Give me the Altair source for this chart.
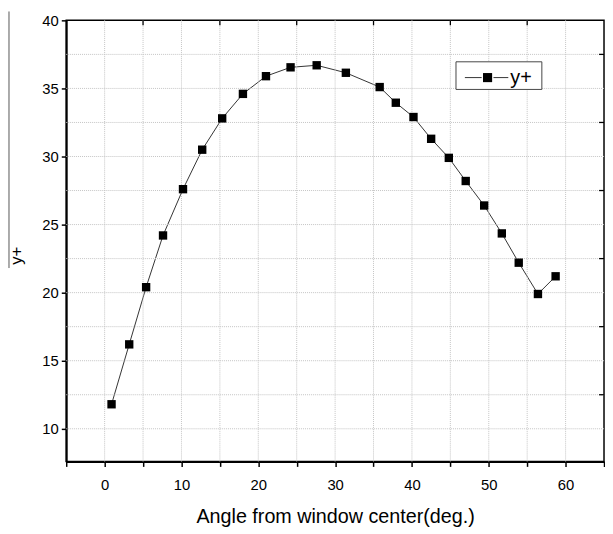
import altair as alt
import pandas as pd

# ---- data ----
angle = [0.9, 3.2, 5.4, 7.6, 10.2, 12.7, 15.3, 18.0, 21.0, 24.2, 27.6, 31.4,
         35.8, 37.9, 40.2, 42.5, 44.8, 47.0, 49.4, 51.7, 53.9, 56.4, 58.7]
yplus = [11.8, 16.2, 20.4, 24.2, 27.6, 30.5, 32.8, 34.6, 35.9, 36.55, 36.7, 36.15,
         35.1, 33.95, 32.9, 31.3, 29.9, 28.2, 26.4, 24.35, 22.2, 19.9, 21.2]
series_name = "y+"

x_ticks = [-5, 0, 5, 10, 15, 20, 25, 30, 35, 40, 45, 50, 55, 60, 65]
y_ticks = [10, 15, 20, 25, 30, 35, 40]
x_grid = [0, 5, 10, 15, 20, 25, 30, 35, 40, 45, 50, 55, 60]
y_grid = [10, 12.5, 15, 17.5, 20, 22.5, 25, 27.5, 30, 32.5, 35, 37.5]
top_ticks = [5, 15, 25, 35, 45, 55]
right_ticks = [12.5, 17.5, 22.5, 27.5, 32.5, 37.5]

W, H = 545, 447
FONT = "Liberation Sans"

df = pd.DataFrame({"angle": angle, "yplus": yplus})
xs = alt.Scale(domain=[-5, 65], nice=False, zero=False)
ys = alt.Scale(domain=[7.6, 40], nice=False, zero=False)

xaxis = alt.Axis(
    values=x_ticks,
    labelExpr="datum.value % 10 === 0 ? datum.label : ''",
    grid=False, tickSize=5, tickWidth=1.5, tickColor="black",
    domainColor="black", domainWidth=2,
    labelFontSize=15, labelColor="black", labelPadding=11, labelFlush=False,
    title="Angle from window center(deg.)", titleFontSize=20,
    titleFontWeight="normal", titleColor="black", titlePadding=15,
)
yaxis = alt.Axis(
    values=y_ticks, grid=False, tickSize=5, tickWidth=1.5, tickColor="black",
    domainColor="black", domainWidth=2,
    labelFontSize=15, labelColor="black", labelPadding=3, labelFlush=False,
    title="y+", titleFontSize=17, titleFontWeight="normal", titleColor="black",
    titleAngle=270, titleX=-50, titleY=238, titleAlign="center",
    titleBaseline="middle",
)

X = alt.X("angle:Q", scale=xs, axis=xaxis)
Y = alt.Y("yplus:Q", scale=ys, axis=yaxis)

line = alt.Chart(df).mark_line(color="#333333", strokeWidth=1).encode(x=X, y=Y)
pts = alt.Chart(df).mark_point(
    shape="square", filled=True, color="black", size=72, opacity=1
).encode(x=X, y=Y)

xgrid = alt.Chart(pd.DataFrame({"angle": x_grid})).mark_rule(
    color="#c4c4c4", strokeDash=[1, 1], strokeWidth=1
).encode(x=X, y=alt.value(0), y2=alt.value(H))

ygrid = alt.Chart(pd.DataFrame({"yplus": y_grid})).mark_rule(
    color="#c4c4c4", strokeDash=[1, 1], strokeWidth=1
).encode(y=Y, x=alt.value(0), x2=alt.value(W))

topt = alt.Chart(pd.DataFrame({"angle": top_ticks})).mark_rule(
    color="black", strokeWidth=1.3
).encode(x=X, y=alt.value(0), y2=alt.value(5))

rightt = alt.Chart(pd.DataFrame({"yplus": right_ticks})).mark_rule(
    color="black", strokeWidth=1.3
).encode(y=Y, x=alt.value(W - 5), x2=alt.value(W))

# legend box (drawn by hand)
leg_df = pd.DataFrame({"name": [series_name]})
leg_box = alt.Chart(leg_df).mark_rect(
    fill="white", stroke="#444444", strokeWidth=1
).encode(x=alt.value(395), x2=alt.value(482), y=alt.value(42), y2=alt.value(70))
leg_line_l = alt.Chart(leg_df).mark_rule(color="#333333", strokeWidth=1).encode(
    x=alt.value(404), x2=alt.value(421), y=alt.value(58))
leg_line_r = alt.Chart(leg_df).mark_rule(color="#333333", strokeWidth=1).encode(
    x=alt.value(433), x2=alt.value(448), y=alt.value(58))
leg_pt = alt.Chart(leg_df).mark_point(
    shape="square", filled=True, color="black", size=85, opacity=1
).encode(x=alt.value(427), y=alt.value(58))
leg_txt = alt.Chart(leg_df).mark_text(
    align="left", baseline="middle", fontSize=20, color="black", font=FONT
).encode(x=alt.value(450), y=alt.value(59), text="name:N")

# stray vertical line at the far left of the reference
stray = alt.Chart(leg_df).mark_rule(color="#555555", strokeWidth=1, clip=False).encode(
    x=alt.value(-58), y=alt.value(-9), y2=alt.value(251))

chart = alt.layer(
    line, xgrid, ygrid, pts, topt, rightt,
    leg_box, leg_line_l, leg_line_r, leg_pt, leg_txt, stray
).properties(
    width=W, height=H,
    autosize=alt.AutoSizeParams(type="none"),
    padding={"left": 59, "top": 9, "right": 1, "bottom": 70},
).configure(font=FONT).configure_view(stroke="black", strokeWidth=1.5)

chart.save("out.html", embed_options={"renderer": "svg", "actions": False})
